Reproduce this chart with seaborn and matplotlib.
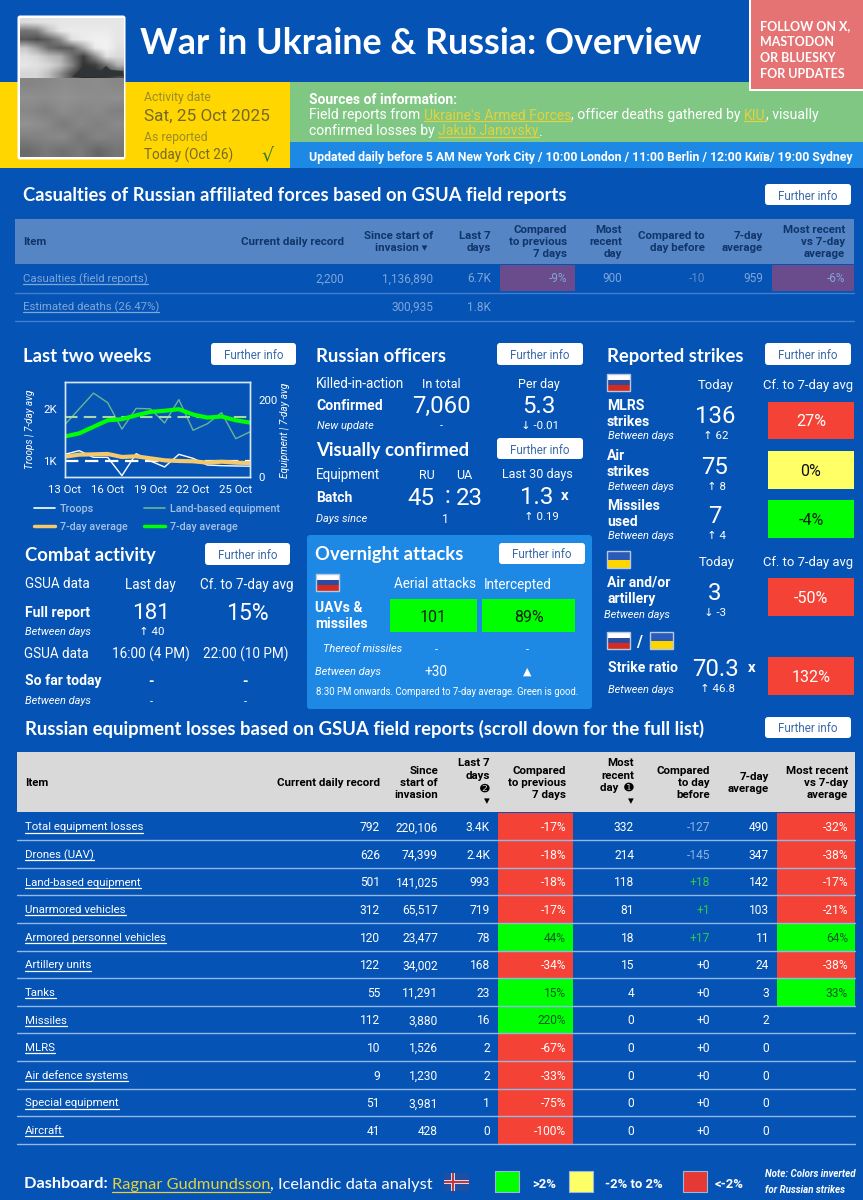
import numpy as np
import pandas as pd
import matplotlib
matplotlib.use("Agg")
import matplotlib.pyplot as plt
import seaborn as sns
from matplotlib.lines import Line2D
from matplotlib.patches import FancyBboxPatch, Polygon, Rectangle

sns.set_style("white")
plt.rcParams["font.family"] = ["Roboto", "DejaVu Sans"]

BG = "#0553B5"
HEAD = "Lato"
RED = "#F44336"
GREEN = "#00FF00"
YELLOW = "#FFFF66"
LINK = "#E3D23A"

# chart data
days = list(range(13, 27))
troops = [1128, 1199, 1070, 1070, 718, 1141, 1000, 885, 1128, 1051, 923, 910, 904, 900]
troops_avg = [1083, 1122, 1128, 1135, 1077, 1090, 1051, 1013, 1000, 994, 968, 987, 968, 959]
land = [137, 178, 219, 194, 125, 179, 178, 141, 202, 122, 139, 168, 100, 118]
land_avg = [106, 114, 131, 148, 151, 161, 170, 173, 177, 163, 155, 158, 148, 142]

# casualties table
cas_items = ["Casualties (field reports)", "Estimated deaths (26.47%)"]
cas_record = ["2,200", ""]
cas_total = ["1,136,890", "300,935"]
cas_last7 = ["6.7K", "1.8K"]
cas_cmp7 = ["-9%", ""]
cas_recent = ["900", ""]
cas_cmpday = ["-10", ""]
cas_avg = ["959", ""]
cas_vs = ["-6%", ""]

# equipment table
eq_items = ["Total equipment losses", "Drones (UAV)", "Land-based equipment", "Unarmored vehicles",
            "Armored personnel vehicles", "Artillery units", "Tanks", "Missiles", "MLRS",
            "Air defence systems", "Special equipment", "Aircraft"]
eq_record = [792, 626, 501, 312, 120, 122, 55, 112, 10, 9, 51, 41]
eq_total = ["220,106", "74,399", "141,025", "65,517", "23,477", "34,002", "11,291", "3,880",
            "1,526", "1,230", "3,981", "428"]
eq_last7 = ["3.4K", "2.4K", "993", "719", "78", "168", "23", "16", "2", "2", "1", "0"]
eq_cmp7 = [-17, -18, -18, -17, 44, -34, 15, 220, -67, -33, -75, -100]
eq_recent = [332, 214, 118, 81, 18, 15, 4, 0, 0, 0, 0, 0]
eq_cmpday = [-127, -145, 18, 1, 17, 0, 0, 0, 0, 0, 0, 0]
eq_avg = [490, 347, 142, 103, 11, 24, 3, 2, 0, 0, 0, 0]
eq_vs = [-32, -38, -17, -21, 64, -38, 33, None, None, None, None, None]

# rough grey levels of the photo, sky and sea
photo_sky = [[.86, .88, .89, .90, .90, .90, .90, .90, .90],
             [.45, .50, .75, .90, .92, .92, .92, .92, .90],
             [.35, .30, .38, .55, .88, .92, .94, .94, .90],
             [.78, .62, .42, .35, .38, .65, .92, .95, .88],
             [.88, .84, .74, .68, .45, .24, .55, .88, .85],
             [.90, .88, .84, .74, .52, .20, .24, .45, .70],
             [.84, .84, .74, .55, .32, .16, .18, .20, .30]]
photo_sea = [[.52, .53, .55, .54, .55, .53],
             [.56, .55, .57, .56, .55, .56],
             [.53, .50, .55, .52, .54, .50],
             [.57, .54, .48, .53, .50, .54],
             [.50, .52, .54, .46, .52, .50],
             [.42, .47, .44, .48, .40, .46]]

fig = plt.figure(figsize=(8.63, 12), dpi=100, facecolor=BG)
ax = fig.add_axes([0, 0, 1, 1])
ax.set_xlim(0, 863)
ax.set_ylim(1200, 0)
ax.axis("off")


def box(x0, y0, x1, y1, color, z=1, **kw):
    ax.add_patch(Rectangle((x0, y0), x1 - x0, y1 - y0, facecolor=color, edgecolor=kw.pop("ec", "none"), zorder=z, **kw))


def txt(x, y, s, px=13, color="white", ha="left", weight="normal", style="normal", family=None, z=5, **kw):
    return ax.text(x, y, s, fontsize=px * 0.72, color=color, ha=ha, va="center_baseline", fontweight=weight,
                   fontstyle=style, family=family or ["Roboto", "DejaVu Sans"], zorder=z, **kw)


def head(x, y, s, px=18.5):
    txt(x, y, s, px=px, weight="bold", family=[HEAD, "DejaVu Sans"])


def button(x0, y0, x1, y1):
    ax.add_patch(FancyBboxPatch((x0 + 3, y0 + 3), x1 - x0 - 6, y1 - y0 - 6, boxstyle="round,pad=3", facecolor="white",
                                edgecolor="none", zorder=4))
    txt((x0 + x1) / 2, (y0 + y1) / 2, "Further info", px=11.6, color="#3A6AA8", ha="center")


def flag(x0, y0, colors, w=23, h=17):
    n = len(colors)
    for i, c in enumerate(colors):
        box(x0, y0 + h * i / n, x0 + w, y0 + h * (i + 1) / n, c, z=4)
    ax.add_patch(Rectangle((x0, y0), w, h, fill=False, edgecolor="#B8C8E0", lw=1, zorder=5))


def cell(x0, y0, x1, y1, s, color, tcolor="white", px=16):
    box(x0, y0, x1, y1, color, z=3)
    txt((x0 + x1) / 2, (y0 + y1) / 2, s, px=px, color=tcolor, ha="center")


def runs(x, y, parts, px=13):
    # strings in a row, each one starting where the last one ended
    rend = fig.canvas.get_renderer()
    inv = ax.transData.inverted()
    for s, color, weight, link in parts:
        t = txt(x, y, s, px=px, color=color, weight=weight, family=[HEAD, "DejaVu Sans"] if px > 14 else None)
        ext = t.get_window_extent(rend)
        x1 = inv.transform((ext.x1, ext.y0))[0]
        if link:
            ax.plot([x, x1], [y + px * 0.52] * 2, color=color, lw=0.9, zorder=5)
        x = x1


def link(x, y, s, color="white", px=11.4):
    t = txt(x, y, s, px=px, color=color)
    ext = t.get_window_extent(fig.canvas.get_renderer())
    x1 = ax.transData.inverted().transform((ext.x1, ext.y0))[0]
    ax.plot([x, x1], [y + px * 0.55] * 2, color=color, lw=0.9, zorder=5)


# header bands
box(0, 82, 290, 168, "#FFD600")
box(290, 82, 863, 142, "#81C784")
box(290, 142, 863, 168, "#1E88E5")
box(749, 0, 863, 91, "white", z=2)
box(751, 0, 863, 89, "#E57373", z=3)
txt(140, 40, "War in Ukraine & Russia: Overview", px=35.9, weight="bold", family=[HEAD, "DejaVu Sans"])
for i, s in enumerate(["FOLLOW ON X,", "MASTODON", "OR BLUESKY", "FOR UPDATES"]):
    txt(760, 25 + 16 * i, s, px=12.5, weight="bold", family=[HEAD, "DejaVu Sans"])

# photo, roughly painted
ax.add_patch(FancyBboxPatch((20, 18), 103, 139, boxstyle="round,pad=2.5", facecolor="white", edgecolor="none", zorder=4))
ax.imshow(photo_sky, extent=(20, 123, 78, 18), aspect="auto", zorder=5, interpolation="bilinear", cmap="gray", vmin=0, vmax=1)
ax.imshow(photo_sea, extent=(20, 123, 157, 78), aspect="auto", zorder=5, interpolation="bilinear", cmap="gray", vmin=0, vmax=1)
ax.set_xlim(0, 863)
ax.set_ylim(1200, 0)
ax.add_patch(Polygon([(72, 77), (84, 66), (92, 68), (100, 71), (106, 66), (111, 70), (123, 71), (123, 76), (100, 77)],
                     facecolor="#2F3436", edgecolor="none", zorder=7))

txt(144, 96, "Activity date", px=12.2, color="#9A8C28")
txt(144, 115, "Sat, 25 Oct 2025", px=17.2, color="#75692A")
txt(144, 136, "As reported", px=12.2, color="#9A8C28")
txt(144, 154, "Today (Oct 26)", px=13.5, color="#75692A")
txt(267, 153, "\u221a", px=19, color="#2E7D32", ha="center", family=["DejaVu Sans"])

runs(309, 98, [("Sources of information:", "white", "bold", False)], px=13.9)
runs(309, 114, [("Field reports from ", "white", "normal", False), ("Ukraine's Armed Forces", LINK, "normal", True),
                (", officer deaths gathered by ", "white", "normal", False), ("KIU", LINK, "normal", True),
                (", visually", "white", "normal", False)], px=14)
runs(309, 130, [("confirmed losses by ", "white", "normal", False), ("Jakub Janovsky", LINK, "normal", True),
                (".", "white", "normal", False)], px=14)
txt(309, 156, "Updated daily before 5 AM New York City / 10:00 London / 11:00 Berlin / 12:00 \u041a\u0438\u0457\u0432/ 19:00 Sydney",
    px=12.3, weight="bold")

# casualties table
head(23, 194, "Casualties of Russian affiliated forces based on GSUA field reports", px=18.4)
button(765, 184, 851, 205)
box(15, 219, 854, 264, "#5585C4")
DARK = "#10356B"
txt(23, 241, "Item", px=11.5, color=DARK, weight="bold")
cas_heads = [(344, ["Current daily record"]), (433, ["Since start of", "invasion \u25be  "]), (491, ["Last 7", "days"]),
             (567, ["Compared", "to previous", "7 days"]), (622, ["Most", "recent", "day"]),
             (705, ["Compared to", "day before"]), (763, ["7-day", "average"]),
             (845, ["Most recent", "vs 7-day", "average"])]
for right, lines in cas_heads:
    for i, s in enumerate(lines):
        txt(right, 241 + 12 * (i - (len(lines) - 1) / 2), s, px=11.5, color=DARK, weight="bold", ha="right")
MUTED = "#7FA6D8"
cas_cols = [(344, cas_record), (433, cas_total), (491, cas_last7), (567, cas_cmp7), (622, cas_recent),
            (705, cas_cmpday), (763, cas_avg), (845, cas_vs)]
for r, name in enumerate(cas_items):
    y = 277.5 + 28.5 * r
    link(23, y, name, color=MUTED)
    ax.plot([15, 854], [y + 15 - 0.5 * r] * 2, color="#3F7FD0", lw=1, zorder=2)
    for right, col in cas_cols:
        c = "#5F8CCB" if right == 705 else MUTED
        txt(right, y, col[r], px=11.8, color=c, ha="right")
box(500, 265, 575, 291, "#6A4C8C", z=2)
box(772, 265, 854, 291, "#6A4C8C", z=2)

# last two weeks
head(23, 355, "Last two weeks")
button(211, 343, 296, 365)
chart = fig.add_axes([65 / 863, 1 - 477 / 1200, 185 / 863, 95 / 1200], facecolor="none", zorder=5)
chart2 = chart.twinx()
df = pd.DataFrame({"day": days, "troops": troops, "troops_avg": troops_avg, "land": land, "land_avg": land_avg})
sns.lineplot(data=df, x="day", y="land", ax=chart2, color="#68B595", lw=1)
chart2.axhline(157, color="#A8D8A8", lw=1.5, ls=(0, (6, 3)))
sns.lineplot(data=df, x="day", y="land_avg", ax=chart2, color=GREEN, lw=3)
sns.lineplot(data=df, x="day", y="troops", ax=chart, color="white", lw=1)
chart.axhline(1000, color="white", lw=1.6, ls=(0, (6, 3)))
sns.lineplot(data=df, x="day", y="troops_avg", ax=chart, color="#F3C96B", lw=3)
chart.set_zorder(6)
chart2.set_zorder(5)
chart.patch.set_visible(False)
chart.set_xlim(13, 26)
chart.set_ylim(692, 2519)
chart2.set_ylim(0, 248)
chart.set_yticks([1000, 2000], ["1K", "2K"])
chart2.set_yticks([0, 200], ["0", "200"])
chart.set_xticks([13, 16, 19, 22, 25], ["13 Oct", "16 Oct", "19 Oct", "22 Oct", "25 Oct"])
for a in (chart, chart2):
    a.set_xlabel("")
    a.set_ylabel("")
    a.tick_params(colors="white", labelsize=8.2, length=0, pad=6)
    for sp in a.spines.values():
        sp.set_color("#D6E6F5")
        sp.set_linewidth(1)
    a.grid(False)
txt(29, 429, "Troops | 7-day avg", px=10, style="italic", rotation=90, ha="center", rotation_mode="anchor")
txt(284, 430, "Equipment | 7-day avg", px=10, style="italic", rotation=90, ha="center", rotation_mode="anchor")
legend_items = [(34, 508, "white", 1.2, "Troops"), (144, 508, "#68B595", 1.2, "Land-based equipment"),
                (34, 526, "#F3C96B", 2.5, "7-day average"), (144, 526, GREEN, 2.5, "7-day average")]
for x, y, c, lw, s in legend_items:
    ax.add_line(Line2D([x, x + 21], [y, y], color=c, lw=lw, zorder=5))
    txt(x + 26, y, s, px=10.7, color="#A6C2E6", weight="medium")

# combat activity
head(25, 554, "Combat activity")
button(205, 543, 290, 565)
txt(25, 583, "GSUA data", px=13.5)
txt(150, 583, "Last day", px=13.5, ha="center")
txt(247, 583, "Cf. to 7-day avg", px=13.5, ha="center")
txt(25, 611, "Full report", px=14, weight="bold")
txt(151, 611, "181", px=22.5, ha="center")
txt(247, 611, "15%", px=23, ha="center")
txt(25, 631, "Between days", px=11, style="italic")
txt(152, 631, "\u2191 40", px=11.5, ha="center")
txt(24, 653, "GSUA data", px=13.5)
txt(151, 653, "16:00 (4 PM)", px=13.5, ha="center")
txt(246, 653, "22:00 (10 PM)", px=13.5, ha="center")
txt(25, 680, "So far today", px=14, weight="bold")
txt(151, 681, "-", px=14, ha="center", weight="bold")
txt(245, 681, "-", px=14, ha="center", weight="bold")
txt(25, 700, "Between days", px=11, style="italic")
txt(151, 701, "-", px=11, ha="center")
txt(245, 701, "-", px=11, ha="center")

# russian officers
head(316, 355, "Russian officers")
button(497, 343, 583, 365)
txt(316, 383, "Killed-in-action", px=13.5)
txt(441, 383, "In total", px=12.5, ha="center")
txt(539, 383, "Per day", px=12.5, ha="center")
txt(316, 405, "Confirmed", px=14, weight="bold")
txt(441, 404, "7,060", px=24, ha="center")
txt(539, 404, "5.3", px=24, ha="center")
txt(317, 425, "New update", px=11, style="italic")
txt(441, 425, "-", px=11, ha="center")
txt(540, 425, "\u2193 -0.01", px=11.5, ha="center")

# visually confirmed
head(316, 449, "Visually confirmed")
button(497, 438, 583, 459)
txt(316, 474, "Equipment", px=13.5)
txt(427, 474, "RU", px=12.5, ha="center")
txt(464, 474, "UA", px=12.5, ha="center")
txt(537, 473, "Last 30 days", px=12.5, ha="center")
txt(316, 497, "Batch", px=14, weight="bold")
txt(421, 496, "45", px=24, ha="center")
txt(447, 494, ":", px=24, ha="center")
txt(469, 496, "23", px=24, ha="center")
txt(537, 495, "1.3", px=24, ha="center")
txt(565, 495, "x", px=15, ha="center", weight="bold")
txt(316, 518, "Days since", px=11, style="italic")
txt(445, 518, "1", px=12, ha="center")
txt(541, 516, "\u2191 0.19", px=11.5, ha="center")

# overnight attacks
ax.add_patch(FancyBboxPatch((310, 538), 279, 168, boxstyle="round,pad=3", facecolor="#1E88E5", edgecolor="none", zorder=1))
head(315, 553, "Overnight attacks")
button(499, 543, 585, 564)
flag(316, 574, ["white", "#2B4BA0", "#D52B1E"])
txt(435, 583, "Aerial attacks", px=13.5, ha="center")
txt(518, 583, "Intercepted", px=13.5, ha="center")
txt(315, 607, "UAVs &", px=14, weight="bold")
txt(315, 623, "missiles", px=14, weight="bold")
cell(390, 599, 477, 632, "101", GREEN, "#102010")
cell(482, 599, 575, 632, "89%", GREEN, "#102010")
txt(323, 648, "Thereof missiles", px=11, style="italic")
txt(436, 649, "-", px=11, ha="center")
txt(527, 649, "-", px=11, ha="center")
txt(315, 671, "Between days", px=11, style="italic")
txt(436, 671, "+30", px=13.5, ha="center")
txt(527, 671, "\u25b2", px=11, ha="center", family=["DejaVu Sans"])
txt(316, 691, "8:30 PM onwards. Compared to 7-day average. Green is good.", px=9.7)

# reported strikes
head(607, 355, "Reported strikes")
button(765, 343, 851, 365)
RU = ["white", "#2B4BA0", "#D52B1E"]
UA = ["#2B5BB8", "#FFD500"]
flag(607, 374, RU)
txt(716, 384, "Today", px=13, ha="center")
txt(808, 384, "Cf. to 7-day avg", px=13, ha="center")
strike_rows = [(404, ["MLRS", "strikes"], "136", "\u2191 62", 402, 439, "27%", RED, "white"),
               (455, ["Air", "strikes"], "75", "\u2191 8", 451, 489, "0%", YELLOW, "#101010"),
               (504, ["Missiles", "used"], "7", "\u2191 4", 500, 538, "-4%", GREEN, "#102010")]
for y, names, val, diff, y0, y1, pct, col, tc in strike_rows:
    txt(607, y, names[0], px=14, weight="bold")
    txt(607, y + 16, names[1], px=14, weight="bold")
    txt(715, y + 10, val, px=24, ha="center")
    txt(608, y + 31, "Between days", px=11, style="italic")
    txt(716, y + 31, diff, px=11.5, ha="center")
    cell(768, y0, 854, y1, pct, col, tc)
flag(607, 551, UA)
txt(717, 561, "Today", px=13, ha="center")
txt(808, 561, "Cf. to 7-day avg", px=13, ha="center")
txt(607, 581, "Air and/or", px=14, weight="bold")
txt(607, 597, "artillery", px=14, weight="bold")
txt(715, 591, "3", px=24, ha="center")
txt(604, 614, "Between days", px=11, style="italic")
txt(715, 612, "\u2193 -3", px=11.5, ha="center")
cell(768, 578, 854, 616, "-50%", RED)
flag(607, 632, RU)
txt(639, 641, "/", px=16, ha="center", weight="bold")
flag(650, 632, UA)
txt(608, 667, "Strike ratio", px=14, weight="bold")
txt(715, 667, "70.3", px=24, ha="center")
txt(752, 667, "x", px=15, ha="center", weight="bold")
txt(608, 689, "Between days", px=11, style="italic")
txt(717, 688, "\u2191 46.8", px=11.5, ha="center")
cell(768, 657, 854, 695, "132%", RED)

# equipment table
head(25, 727, "Russian equipment losses based on GSUA field reports (scroll down for the full list)", px=18.5)
button(765, 717, 851, 738)
box(17, 752, 855, 812, "#D9D9D9")
txt(25, 782, "Item", px=11.5, color="black", weight="bold")
eq_heads = [(380, 782, ["Current daily record"]), (438, 782, ["Since", "start of", "invasion"]),
            (490, 781, ["Last 7", "days", "\u278b", "\u25be"]), (566, 782, ["Compared", "to previous", "7 days"]),
            (634, 781, ["Most", "recent", "day  \u278a", "\u25be"]), (710, 782, ["Compared", "to day", "before"]),
            (769, 782, ["7-day", "average"]), (848, 782, ["Most recent", "vs 7-day", "average"])]
for right, yc, lines in eq_heads:
    for i, s in enumerate(lines):
        txt(right, yc + 12.5 * (i - (len(lines) - 1) / 2), s, px=11.5, color="black", weight="bold", ha="right",
            family=["Roboto", "DejaVu Sans"])


def shade(v):
    if v is None:
        return None, "white"
    return (RED, "white") if v < -2 else (GREEN, "#0B5A1E")


ROW = 27.6
for r, name in enumerate(eq_items):
    y0 = 812.5 + ROW * r
    y = y0 + ROW / 2
    link(25, y, name)
    for x0, x1, right, v in [(498, 573, 566, eq_cmp7[r]), (777, 855, 848, eq_vs[r])]:
        col, tc = shade(v)
        if col:
            box(x0, y0, x1, y0 + ROW, col, z=2)
            txt(right, y, f"{v}%", px=12, color=tc, ha="right")
    txt(380, y, str(eq_record[r]), px=12, ha="right")
    txt(438, y, eq_total[r], px=12, ha="right")
    txt(490, y, eq_last7[r], px=12, ha="right")
    txt(634, y, str(eq_recent[r]), px=12, ha="right")
    d = eq_cmpday[r]
    txt(710, y, f"{d:+d}", px=12, ha="right", color="#8FB3E4" if d < 0 else ("#2FCB4A" if d > 0 else "white"))
    txt(769, y, str(eq_avg[r]), px=12, ha="right")
    ax.plot([17, 855], [y0 + ROW] * 2, color="#90B9EA", lw=1, zorder=3)

# footer
runs(24, 1183, [("Dashboard: ", "white", "bold", False), ("Ragnar Gudmundsson", LINK, "normal", True),
                (", Icelandic data analyst", "white", "normal", False)], px=16.4)
box(444, 1173, 469, 1191, "#1F4FA0", z=3)
box(444, 1180, 469, 1184, "#D8D8E8", z=4)
box(451, 1173, 455, 1191, "#D8D8E8", z=4)
box(444, 1181, 469, 1183, "#C8343C", z=5)
box(452, 1173, 454, 1191, "#C8343C", z=5)
for x0, c, lab, lx in [(495, GREEN, ">2%", 532), (569, YELLOW, "-2% to 2%", 605), (683, "#E53935", "<-2%", 715)]:
    box(x0, 1171, x0 + 24, 1192, c, z=3, ec="#9DB8DE", lw=0.8)
    txt(lx, 1183, lab, px=13, weight="bold")
txt(765, 1173, "Note: Colors inverted", px=9.8, style="italic", weight="bold")
txt(765, 1189, "for Russian strikes", px=9.8, style="italic", weight="bold")

fig.savefig("out.png", dpi=100, facecolor=BG)
